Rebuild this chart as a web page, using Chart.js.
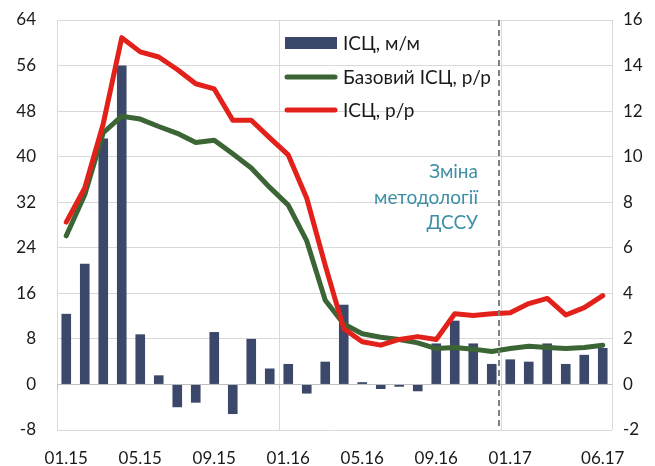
<!DOCTYPE html>
<html>
<head>
<meta charset="utf-8">
<script src="https://cdn.jsdelivr.net/npm/chart.js@4"></script>
<style>
  html, body { margin: 0; padding: 0; background: #fff; }
  #wrap { width: 655px; height: 466px; }
</style>
</head>
<body>
<div id="wrap"><canvas id="cpiChart" width="655" height="466"></canvas></div>
<script>
const months = [
    "01.15", "02.15", "03.15", "04.15", "05.15", "06.15", "07.15", "08.15", "09.15", "10.15", "11.15", "12.15",
    "01.16", "02.16", "03.16", "04.16", "05.16", "06.16", "07.16", "08.16", "09.16", "10.16", "11.16", "12.16",
    "01.17", "02.17", "03.17", "04.17", "05.17", "06.17"
];
const shownTicks = ["01.15", "05.15", "09.15", "01.16", "05.16", "09.16", "01.17", "06.17"];

// ІСЦ, м/м (права вісь)
const cpiMoM = [
    3.1, 5.3, 10.8, 14.0, 2.2, 0.4, -1.0, -0.8, 2.3, -1.3, 2.0, 0.7,
    0.9, -0.4, 1.0, 3.5, 0.1, -0.2, -0.1, -0.3, 1.8, 2.8, 1.8, 0.9,
    1.1, 1.0, 1.8, 0.9, 1.3, 1.6
];
// Базовий ІСЦ, р/р (ліва вісь)
const coreYoY = [
    26.1, 33.3, 44.2, 47.1, 46.6, 45.3, 44.1, 42.5, 42.9, 40.5, 38.0, 34.6,
    31.5, 25.2, 14.8, 10.6, 8.9, 8.3, 7.9, 7.3, 6.3, 6.5, 6.2, 5.8,
    6.3, 6.7, 6.5, 6.3, 6.5, 6.9
];
// ІСЦ, р/р (ліва вісь)
const cpiYoY = [
    28.5, 34.5, 45.8, 60.9, 58.4, 57.5, 55.3, 52.8, 51.9, 46.4, 46.4, 43.3,
    40.3, 32.7, 20.9, 9.8, 7.5, 6.9, 7.9, 8.4, 7.9, 12.4, 12.1, 12.4,
    12.6, 14.2, 15.1, 12.2, 13.5, 15.6
];
const methodChangeMonth = "01.17";
const noteLines = ["Зміна", "методології", "ДССУ"];

const barColor = "#3c4869";
const coreColor = "#3b6535";
const cpiColor = "#e3211b";
const gridColor = "#d9d9d9";

Chart.defaults.font.family = "Lato, 'Open Sans', sans-serif";
Chart.defaults.font.size = 17;
Chart.defaults.color = "#1a1a1a";

// dashed line + note + legend inside the plot
const extras = {
    id: "extras",
    afterDatasetsDraw(chart) {
        const { ctx, chartArea, scales } = chart;
        const x = scales.x;
        const idx = months.indexOf(methodChangeMonth);
        const xLine = (x.getPixelForValue(idx - 1) + x.getPixelForValue(idx)) / 2 - 2;

        ctx.save();
        ctx.strokeStyle = "#808080";
        ctx.lineWidth = 2;
        ctx.setLineDash([6, 4]);
        ctx.beginPath();
        ctx.moveTo(xLine, chartArea.top);
        ctx.lineTo(xLine, chartArea.bottom);
        ctx.stroke();
        ctx.setLineDash([]);

        // note text
        ctx.fillStyle = "#3d8fa6";
        ctx.font = "19px Lato, 'Open Sans', sans-serif";
        ctx.textAlign = "right";
        ctx.textBaseline = "middle";
        noteLines.forEach((t, i) => ctx.fillText(t, xLine - 21, 172 + i * 25.5));

        // small axis tick marks below zero line
        const y0 = scales.y.getPixelForValue(0);
        const step = x.getPixelForValue(1) - x.getPixelForValue(0);
        ctx.strokeStyle = "#bfbfbf";
        ctx.lineWidth = 1;
        [0, 12, 24].forEach(i => {
            const px = Math.round(x.getPixelForValue(i) - step / 2) + 0.5;
            ctx.beginPath();
            ctx.moveTo(px, y0);
            ctx.lineTo(px, y0 + 5);
            ctx.stroke();
        });

        // legend
        const items = chart.data.datasets;
        const lx = 285, lw = 52, tx = 343;
        const rows = [43, 77, 110];
        ctx.textAlign = "left";
        items.forEach((ds, i) => {
            const y = rows[i];
            if (ds.type === "bar") {
                ctx.fillStyle = ds.backgroundColor;
                ctx.fillRect(lx, y - 6, lw, 12);
            } else {
                ctx.strokeStyle = ds.borderColor;
                ctx.lineWidth = 5;
                ctx.lineCap = "round";
                ctx.beginPath();
                ctx.moveTo(lx + 2, y);
                ctx.lineTo(lx + lw - 2, y);
                ctx.stroke();
            }
            ctx.fillStyle = "#1a1a1a";
            ctx.fillText(ds.label, tx, y + 1);
        });
        ctx.restore();
    }
};

const ctxCpi = document.getElementById("cpiChart").getContext("2d");
const cpiChart = new Chart(ctxCpi, {
    type: "bar",
    data: {
        labels: months,
        datasets: [
            {
                type: "bar",
                label: "ІСЦ, м/м",
                data: cpiMoM,
                yAxisID: "y1",
                backgroundColor: barColor,
                categoryPercentage: 0.52,
                barPercentage: 1,
                order: 2,
            },
            {
                type: "line",
                label: "Базовий ІСЦ, р/р",
                data: coreYoY,
                yAxisID: "y",
                borderColor: coreColor,
                borderWidth: 5,
                pointRadius: 0,
                tension: 0,
                borderCapStyle: "round",
                borderJoinStyle: "round",
                order: 1,
            },
            {
                type: "line",
                label: "ІСЦ, р/р",
                data: cpiYoY,
                yAxisID: "y",
                borderColor: cpiColor,
                borderWidth: 5,
                pointRadius: 0,
                tension: 0,
                borderCapStyle: "round",
                borderJoinStyle: "round",
                order: 0,
            },
        ],
    },
    options: {
        responsive: false,
        animation: false,
        layout: { padding: { top: 20, left: 0, right: 0, bottom: 0 } },
        scales: {
            x: {
                offset: true,
                grid: {
                    offset: true,
                    drawTicks: false,
                    color: (c) => {
                        const i = c.index === undefined ? months.length : c.index;
                        return [0, 12, 24, months.length].includes(i) ? gridColor : "transparent";
                    },
                },
                border: { display: false },
                ticks: {
                    autoSkip: false,
                    maxRotation: 0,
                    padding: 18,
                    callback: (v, i) => shownTicks.includes(months[i]) ? months[i] : "",
                },
                afterFit: (s) => { s.height = 36; },
            },
            y: {
                position: "left",
                min: -8,
                max: 64,
                ticks: { stepSize: 8, padding: 21 },
                grid: {
                    drawTicks: false,
                    color: (c) => c.tick && c.tick.value === 0 ? "#bfbfbf" : gridColor,
                },
                border: { display: false },
                afterFit: (s) => { s.width = 57; s.paddingTop = 0; s.paddingBottom = 0; },
            },
            y1: {
                position: "right",
                min: -2,
                max: 16,
                ticks: { stepSize: 2, padding: 11 },
                grid: { drawOnChartArea: false, drawTicks: false },
                border: { display: false },
                afterFit: (s) => { s.width = 43; s.paddingTop = 0; s.paddingBottom = 0; },
            },
        },
        plugins: {
            legend: { display: false },
            tooltip: { enabled: false },
        },
    },
    plugins: [extras],
});
</script>
</body>
</html>
